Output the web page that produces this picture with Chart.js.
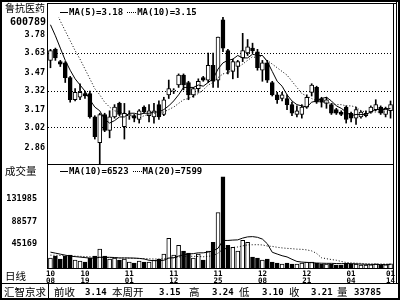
<!DOCTYPE html>
<html lang="zh">
<head>
<meta charset="UTF-8">
<title>鲁抗医药 600789 日线</title>
<script src="https://cdn.jsdelivr.net/npm/chart.js"></script>
<style>
  body { margin: 0; background: #fff; }
  #frame {
    position: relative; width: 400px; height: 300px; overflow: hidden;
    font-family: "Noto Sans CJK SC", sans-serif; color: #000;
  }
  canvas { position: absolute; left: 0; }
  .ln { position: absolute; background: #000; }
  .txt { position: absolute; white-space: nowrap; line-height: 1; }
  .cjk { font-size: 10.5px; }
  .num { font-family: "DejaVu Sans Mono", monospace; font-weight: bold; font-size: 9px; }
  .dash { display: inline-block; width: 8px; height: 0; border-top: 1px solid #000; vertical-align: middle; margin-right: 1px; }
  .dots { display: inline-block; width: 9px; height: 0; border-top: 1px dotted #000; vertical-align: middle; margin: 0 1px 0 4px; }
</style>
</head>
<body>
<div id="frame">
  <canvas id="priceChart" width="400" height="165" style="top:0"></canvas>
  <canvas id="volChart" width="400" height="120" style="top:165px"></canvas>

  <!-- frame lines -->
  <div class="ln" style="left:0;top:0;width:400px;height:2px"></div>
  <div class="ln" style="left:0;top:298px;width:400px;height:2px"></div>
  <div class="ln" style="left:0;top:0;width:2px;height:300px"></div>
  <div class="ln" style="left:398px;top:0;width:2px;height:300px"></div>
  <div class="ln" style="left:47px;top:3px;width:350px;height:1px"></div>
  <div class="ln" style="left:393px;top:3px;width:1px;height:281px"></div>
  <div class="ln" style="left:396px;top:0;width:1px;height:284px"></div>
  <div class="ln" style="left:47px;top:3px;width:1px;height:266px"></div>
  <div class="ln" style="left:47px;top:164px;width:347px;height:1px"></div>
  <div class="ln" style="left:47px;top:268px;width:347px;height:1px"></div>
  <div class="ln" style="left:0;top:283px;width:400px;height:1px"></div>
  <div class="ln" style="left:48px;top:283px;width:1px;height:16px"></div>

  <!-- texts -->
  <div class="txt cjk" style="left:5px;top:3px;font-size:10px">鲁抗医药</div>
  <div class="txt num" style="left:10px;top:17px;font-size:10px">600789</div>
  <div class="txt num" style="left:60px;top:8px"><span class="dash"></span>MA(5)=3.18<span class="dots"></span>MA(10)=3.15</div>
  <div class="txt cjk" style="left:5px;top:166px">成交量</div>
  <div class="txt num" style="left:60px;top:167px"><span class="dash"></span>MA(10)=6523<span class="dots"></span>MA(20)=7599</div>
  <div class="txt cjk" style="left:5px;top:271px">日线</div>

  <div class="txt cjk" style="left:4px;top:287px">汇智京求</div>
  <div class="txt cjk" style="left:54px;top:287px">前收</div>
  <div class="txt num" style="left:85px;top:288px">3.14</div>
  <div class="txt cjk" style="left:112px;top:287px">本周开</div>
  <div class="txt num" style="left:159px;top:288px">3.15</div>
  <div class="txt cjk" style="left:189px;top:287px">高</div>
  <div class="txt num" style="left:212px;top:288px">3.24</div>
  <div class="txt cjk" style="left:239px;top:287px">低</div>
  <div class="txt num" style="left:262px;top:288px">3.10</div>
  <div class="txt cjk" style="left:289px;top:287px">收</div>
  <div class="txt num" style="left:311px;top:288px">3.21</div>
  <div class="txt cjk" style="left:337px;top:287px">量</div>
  <div class="txt num" style="left:354px;top:288px">33785</div>
</div>

<script>
  // trading days 2004-10-08 .. 2005-01-14
  const dates = [
    '10/08','10/11','10/12','10/13','10/14','10/15','10/18','10/19','10/20','10/21','10/22',
    '10/25','10/26','10/27','10/28','10/29',
    '11/01','11/02','11/03','11/04','11/05','11/08','11/09','11/10','11/11','11/12',
    '11/15','11/16','11/17','11/18','11/19','11/22','11/23','11/24','11/25','11/26','11/29','11/30',
    '12/01','12/02','12/03','12/06','12/07','12/08','12/09','12/10','12/13','12/14','12/15','12/16','12/17',
    '12/20','12/21','12/22','12/23','12/24','12/27','12/28','12/29','12/30','12/31',
    '01/04','01/05','01/06','01/07','01/10','01/11','01/12','01/13','01/14'
  ];
  const shownDates = ['10/08','10/19','11/01','11/12','11/25','12/08','12/21','01/04','01/14'];

  const openP = [3.57,3.66,3.56,3.55,3.43,3.25,3.27,3.30,3.30,3.11, 2.90,3.13,3.00,3.11,3.22,3.03,3.12,3.12,3.09,3.19,
                 3.12,3.11,3.21,3.13,3.29,3.32,3.37,3.45,3.39,3.29, 3.34,3.43,3.41,3.53,3.41,3.90,3.65,3.48,3.52,3.59,
                 3.63,3.67,3.64,3.49,3.55,3.39,3.29,3.26,3.26,3.21, 3.13,3.13,3.19,3.31,3.35,3.26,3.22,3.21,3.17,3.15,
                 3.19,3.14,3.10,3.11,3.12,3.15,3.17,3.19,3.13,3.16];
  const highP = [3.66,3.67,3.57,3.56,3.44,3.34,3.38,3.32,3.32,3.12, 3.14,3.14,3.16,3.21,3.23,3.22,3.16,3.13,3.17,3.20,
                 3.21,3.22,3.24,3.27,3.41,3.34,3.46,3.46,3.40,3.35, 3.42,3.44,3.63,3.63,3.76,3.92,3.66,3.58,3.57,3.79,
                 3.74,3.71,3.66,3.57,3.57,3.40,3.31,3.31,3.29,3.23, 3.20,3.21,3.29,3.38,3.36,3.27,3.27,3.22,3.18,3.16,
                 3.20,3.15,3.19,3.16,3.16,3.20,3.25,3.20,3.19,3.24];
  const lowP  = [3.51,3.57,3.52,3.39,3.23,3.24,3.25,3.26,3.10,2.93, 2.72,2.99,2.94,3.10,3.12,2.93,3.09,3.07,3.06,3.14,
                 3.07,3.06,3.09,3.12,3.26,3.30,3.35,3.33,3.25,3.27, 3.31,3.40,3.39,3.35,3.35,3.64,3.46,3.42,3.43,3.56,
                 3.61,3.63,3.49,3.40,3.39,3.28,3.22,3.24,3.17,3.12, 3.11,3.10,3.18,3.28,3.22,3.19,3.18,3.13,3.13,3.12,
                 3.06,3.07,3.05,3.10,3.11,3.14,3.16,3.13,3.11,3.10];
  const closeP = [3.65,3.59,3.54,3.43,3.25,3.31,3.31,3.28,3.11,2.95, 3.13,3.00,3.11,3.19,3.13,3.14,3.13,3.10,3.16,3.15,
                  3.16,3.16,3.11,3.25,3.34,3.32,3.45,3.37,3.29,3.34, 3.40,3.41,3.53,3.40,3.76,3.67,3.49,3.56,3.56,3.65,
                  3.68,3.65,3.51,3.55,3.41,3.29,3.25,3.29,3.21,3.14, 3.16,3.19,3.27,3.37,3.23,3.23,3.25,3.14,3.14,3.13,
                  3.09,3.10,3.17,3.15,3.14,3.19,3.21,3.14,3.18,3.21];
  const ma5 = [3.86,3.77,3.67,3.57,3.49,3.42,3.37,3.32,3.25,3.19, 3.16,3.09,3.06,3.08,3.11,3.11,3.14,3.14,3.13,3.14,
               3.14,3.15,3.15,3.17,3.20,3.24,3.29,3.35,3.35,3.35, 3.37,3.36,3.39,3.42,3.50,3.55,3.57,3.58,3.61,3.59,
               3.59,3.62,3.61,3.61,3.56,3.48,3.40,3.36,3.29,3.24, 3.21,3.20,3.19,3.23,3.24,3.26,3.27,3.24,3.20,3.18,
               3.15,3.12,3.13,3.13,3.13,3.15,3.17,3.17,3.17,3.18];
  const ma10 = [4.06,3.98,3.89,3.81,3.73,3.65,3.58,3.50,3.42,3.34, 3.29,3.23,3.19,3.16,3.15,3.14,3.12,3.10,3.10,3.12,
                3.13,3.14,3.14,3.15,3.17,3.19,3.22,3.25,3.26,3.28, 3.30,3.33,3.37,3.39,3.43,3.46,3.47,3.49,3.51,3.54,
                3.57,3.60,3.59,3.61,3.57,3.54,3.51,3.48,3.45,3.40, 3.35,3.30,3.28,3.26,3.24,3.23,3.23,3.22,3.21,3.21,
                3.20,3.20,3.19,3.16,3.15,3.15,3.15,3.15,3.15,3.15];
  const priceTicks = [3.78, 3.63, 3.47, 3.32, 3.17, 3.02, 2.86];
  const priceGrid = [3.63, 3.32, 3.02];

  const volume = [18900,22600,17000,22600,24500,15100,13200,11300,18900,22600,
                  35900,22600,17000,18900,15100,17000,11300,9400,13200,11300,
                  11300,15100,17000,26400,56600,24500,43400,32100,28300,18900,
                  26400,15100,32100,49100,105700,173600,43400,39600,32100,52800,
                  49100,20800,18900,15100,17000,11300,9400,7500,9400,7500,
                  7500,9400,11300,11300,9400,7500,7500,7500,5700,5700,
                  9400,7500,7500,5700,5700,6200,7900,5600,6100,7985];
  const volMa10 = [30200,28300,26400,24500,22600,21700,20800,19800,18900,18700,
                   20400,20400,20400,20000,19100,19200,19100,18900,18300,17200,
                   14700,14000,14000,14700,18900,19600,22800,25100,26600,27400,
                   28900,28900,30400,32600,37600,52500,52500,53200,53600,57000,
                   59300,59800,58500,55100,46200,30000,26600,23400,21100,16600,
                   12500,11300,10600,10200,9400,9100,8900,8900,8500,8300,
                   8500,8300,7900,7400,7000,6800,6800,6600,6600,6523];
  const volMa20 = [24500,24200,23800,23400,23000,22600,22200,21800,21400,21000,
                   20600,20200,19800,19500,19200,18900,18700,18400,18200,17900,
                   17500,17200,17200,17400,19000,19400,20900,22000,22500,22300,
                   21800,21400,22200,23700,28200,36000,37600,39200,40100,42200,
                   44100,44300,44400,43900,41900,41200,39500,38300,37400,36800,
                   35900,35600,34500,32600,27800,19500,17700,16100,14800,12500,
                   10500,9800,9200,8800,8200,7900,7800,7700,7500,7599];
  const volTicks = [45169, 88577, 131985];

  const mono = { family: 'DejaVu Sans Mono', size: 8.5, weight: 'bold' };
  const upFill = openP.map((o, i) => closeP[i] >= o ? '#fff' : '#000');

  function xAxis(height, showLabels) {
    return {
      type: 'category',
      offset: true,
      grid: { display: false, drawTicks: false },
      border: { display: false },
      ticks: {
        autoSkip: false, maxRotation: 0, padding: 2,
        color: showLabels ? '#000' : 'rgba(0,0,0,0)',
        font: { family: 'DejaVu Sans Mono', size: 7.5, weight: 'bold', lineHeight: 0.95 },
        callback: (v, i) => shownDates.includes(dates[i]) ? dates[i].split('/') : ''
      },
      afterFit: s => { s.height = height; s.paddingLeft = 0; s.paddingRight = 0; }
    };
  }
  function fixY(s) { s.width = 48; s.paddingTop = 0; s.paddingBottom = 0; }

  new Chart(document.getElementById('priceChart'), {
    type: 'bar',
    data: {
      labels: dates,
      datasets: [
        { type: 'line', data: ma5, borderColor: '#000', borderWidth: 1, pointRadius: 0 },
        { type: 'line', data: ma10, borderColor: '#000', borderWidth: 1, borderDash: [1, 2], pointRadius: 0 },
        { data: openP.map((o, i) => [o, closeP[i]]), backgroundColor: upFill, borderColor: '#000',
          borderWidth: 1, borderSkipped: false, barThickness: 4, minBarLength: 1, grouped: false },
        { data: lowP.map((l, i) => [l, highP[i]]), backgroundColor: '#000', borderWidth: 0,
          barThickness: 1, grouped: false }
      ]
    },
    options: {
      responsive: false, animation: false, events: [],
      layout: { padding: { top: 17, right: 7, bottom: 1, left: 0 } },
      plugins: { legend: { display: false }, tooltip: { enabled: false } },
      scales: {
        x: xAxis(0, false),
        y: {
          min: 2.727, max: 3.923,
          afterBuildTicks: s => { s.ticks = priceTicks.map(v => ({ value: v })); },
          afterFit: fixY,
          border: { display: false, dash: [1, 2] },
          grid: {
            drawTicks: false, lineWidth: 1,
            color: c => (c.tick && priceGrid.includes(c.tick.value)) ? '#000' : 'rgba(0,0,0,0)'
          },
          ticks: { autoSkip: false, padding: 3, color: '#000', font: mono, callback: v => v.toFixed(2) }
        }
      }
    }
  });

  new Chart(document.getElementById('volChart'), {
    type: 'bar',
    data: {
      labels: dates,
      datasets: [
        { type: 'line', data: volMa10, borderColor: '#000', borderWidth: 1, pointRadius: 0 },
        { type: 'line', data: volMa20, borderColor: '#000', borderWidth: 1, borderDash: [1, 2], pointRadius: 0 },
        { data: volume, backgroundColor: upFill, borderColor: '#000', borderWidth: 1,
          barThickness: 4, grouped: false }
      ]
    },
    options: {
      responsive: false, animation: false, events: [],
      layout: { padding: { top: 11, right: 7, bottom: 0, left: 0 } },
      plugins: { legend: { display: false }, tooltip: { enabled: false } },
      scales: {
        x: xAxis(17, true),
        y: {
          min: 0, max: 175300,
          afterBuildTicks: s => { s.ticks = volTicks.map(v => ({ value: v })); },
          afterFit: fixY,
          border: { display: false },
          grid: { display: false },
          ticks: { autoSkip: false, padding: 3, color: '#000', font: mono, callback: v => String(v) }
        }
      }
    }
  });
</script>
</body>
</html>
